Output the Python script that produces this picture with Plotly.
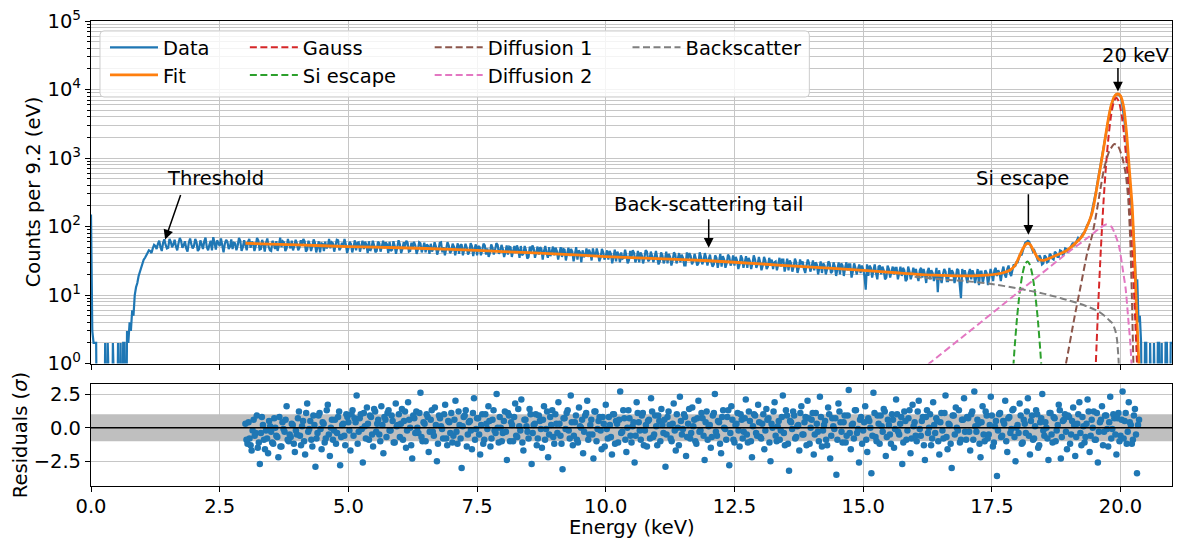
import plotly.graph_objects as go

# ---------------- data ----------------
bin_step_kev = 0.05
# counts at bin starts 0.00, 0.05, ... 21.00
counts = [
    150, 2, 2, 0, 0, 0, 0, 0, 0, 0, 0, 0, 0, 2, 3, 4, 6, 10, 15, 22,
    30, 35, 40, 44, 48, 52, 56, 50, 58, 54, 49, 60, 55, 51, 57, 62, 53, 48, 58, 55,
    52, 59, 47, 55, 61, 50, 54, 45, 58, 63, 52, 49, 56, 60, 51, 47, 57, 53, 62, 50,
    54, 60, 49, 57, 52, 63, 47, 55, 58, 51, 44, 56, 61, 53, 50, 59, 48, 55, 62, 52,
    57, 49, 53, 61, 46, 55, 52, 58, 50, 42, 56, 60, 51, 48, 57, 53, 63, 49, 52, 55,
    48, 56, 50, 45, 59, 52, 47, 54, 61, 49, 53, 44, 57, 51, 48, 55, 60, 46, 52, 50,
    55, 47, 51, 58, 44, 50, 53, 46, 57, 49, 42, 52, 56, 48, 51, 45, 59, 50, 47, 53,
    44, 51, 47, 40, 55, 46, 49, 43, 52, 47, 38, 50, 45, 53, 48, 41, 49, 46, 54, 44,
    47, 42, 39, 50, 44, 41, 46, 52, 40, 45, 36, 43, 48, 42, 39, 47, 44, 41, 50, 43,
    38, 44, 41, 36, 46, 40, 37, 43, 39, 33, 42, 45, 38, 36, 41, 48, 37, 40, 35, 42,
    37, 33, 40, 36, 31, 39, 42, 35, 38, 32, 36, 41, 34, 30, 38, 35, 43, 33, 37, 36,
    35, 31, 38, 33, 29, 36, 32, 39, 34, 30, 35, 27, 33, 37, 31, 34, 29, 36, 32, 35,
    33, 30, 28, 35, 31, 26, 33, 29, 36, 30, 27, 32, 28, 34, 30, 25, 31, 29, 33, 28,
    30, 27, 32, 26, 29, 24, 31, 28, 26, 33, 27, 23, 29, 26, 30, 25, 28, 24, 27, 29,
    26, 23, 28, 25, 21, 27, 24, 29, 22, 26, 24, 20, 27, 25, 23, 28, 22, 25, 24, 21,
    24, 12, 19, 25, 23, 21, 26, 20, 23, 18, 24, 22, 20, 25, 21, 19, 23, 17, 22, 20,
    21, 19, 23, 18, 20, 22, 17, 21, 19, 11, 18, 20, 22, 16, 19, 21, 18, 23, 9, 19,
    18, 21, 17, 20, 19, 14, 22, 19, 21, 18, 20, 23, 19, 21, 22, 20, 24, 21, 23, 26,
    30, 40, 44, 58, 62, 55, 43, 40, 31, 35, 29, 36, 31, 38, 33, 41, 36, 44, 40, 47,
    46, 54, 52, 63, 64, 75, 82, 104, 122, 175, 255, 430, 700, 1180, 2150, 3250, 5100, 6900, 8300, 8500,
    8000, 5100, 2550, 880, 310, 85, 14, 4, 2, 0, 2, 0, 0, 2, 0, 2, 2, 0, 2, 0,
    2,
]
# counts at bin mid-points 0.025, 0.075, ... 20.975
counts_mid = [
    3, 2, 0, 0, 0, 2, 2, 0, 2, 0, 2, 2, 2, 0, 2, 3, 5, 13, 19, 26,
    33, 38, 45, 41, 54, 47, 62, 44, 65, 48, 66, 50, 64, 45, 68, 49, 61, 43, 67, 48,
    66, 44, 63, 47, 69, 45, 62, 70, 46, 55, 67, 42, 64, 47, 65, 58, 45, 68, 44, 63,
    45, 66, 60, 44, 68, 46, 64, 43, 67, 45, 62, 47, 44, 69, 61, 44, 66, 48, 45, 64,
    45, 63, 66, 43, 62, 44, 65, 42, 61, 57, 44, 48, 66, 59, 43, 64, 45, 58, 66, 41,
    60, 42, 63, 58, 43, 62, 60, 41, 44, 62, 42, 60, 43, 62, 59, 41, 44, 61, 40, 63,
    41, 59, 62, 43, 58, 60, 40, 59, 42, 58, 55, 40, 43, 59, 39, 58, 42, 38, 59, 41,
    56, 38, 57, 53, 38, 56, 39, 57, 37, 55, 52, 38, 56, 39, 36, 55, 39, 57, 40, 54,
    36, 53, 51, 36, 52, 53, 35, 38, 52, 34, 51, 53, 35, 51, 50, 33, 52, 35, 37, 51,
    49, 33, 50, 47, 32, 49, 47, 31, 50, 45, 30, 36, 48, 46, 32, 39, 48, 31, 47, 33,
    45, 44, 29, 46, 43, 30, 34, 46, 29, 44, 45, 30, 44, 42, 29, 45, 31, 43, 30, 44,
    28, 42, 29, 43, 40, 27, 42, 29, 41, 39, 27, 42, 41, 28, 40, 27, 42, 28, 41, 27,
    39, 26, 38, 25, 40, 37, 25, 39, 27, 38, 36, 24, 38, 25, 37, 35, 24, 38, 25, 36,
    23, 36, 24, 35, 33, 30, 23, 35, 33, 22, 34, 32, 22, 34, 21, 33, 31, 21, 33, 22,
    32, 30, 20, 31, 29, 20, 31, 21, 30, 19, 30, 29, 19, 30, 28, 18, 29, 20, 28, 27,
    19, 28, 27, 18, 28, 17, 27, 26, 17, 27, 18, 26, 25, 17, 26, 25, 16, 26, 17, 25,
    24, 16, 25, 24, 15, 25, 23, 16, 25, 23, 15, 24, 16, 25, 23, 15, 24, 16, 24, 23,
    15, 24, 23, 15, 24, 22, 15, 23, 14, 24, 16, 25, 23, 16, 26, 18, 27, 19, 28, 30,
    35, 38, 52, 60, 60, 48, 45, 35, 38, 28, 38, 30, 40, 34, 43, 36, 45, 39, 48, 42,
    50, 58, 56, 68, 70, 80, 95, 110, 140, 210, 330, 550, 900, 1600, 2600, 4100, 6000, 7600, 8500, 8300,
    6800, 3800, 1500, 540, 160, 40, 17, 5, 0, 2, 0, 2, 0, 0, 2, 0, 0, 2, 0, 2,
]

fit_energy = [3.0, 4.0, 5.0, 6.0, 7.0, 8.0, 9.0, 10.0, 11.0, 12.0, 13.0, 14.0, 15.0, 15.7,
              16.35, 17.0, 17.4, 17.7, 17.85, 17.95, 18.03, 18.1, 18.16, 18.2, 18.25, 18.3,
              18.36, 18.42, 18.5, 18.6, 18.75, 18.94, 19.1, 19.26, 19.35, 19.45, 19.52,
              19.58, 19.64, 19.7, 19.76, 19.82, 19.88, 19.94, 20.0, 20.06, 20.12, 20.17,
              20.23, 20.28, 20.32, 20.36]
fit_counts = [57, 54, 51, 49, 46.5, 43, 40, 36.5, 34, 31.7, 28.5, 25.5, 23, 21,
              19.5, 19, 19.5, 21, 23, 27, 36, 47, 55, 57, 54, 46,
              38, 33, 32, 34, 38, 44, 55, 73, 100, 160, 300,
              550, 1000, 1900, 3600, 5900, 7900, 8600, 8100, 5600, 2200, 700,
              180, 25, 4, 0.9]

gauss_energy = [19.47, 19.52, 19.57, 19.62, 19.67, 19.72, 19.77, 19.82, 19.87, 19.92,
                19.97, 20.02, 20.07, 20.12, 20.17, 20.22, 20.27, 20.32, 20.37]
gauss_counts = [0.09, 1.0, 8.1, 50, 232, 813, 2160, 4350, 6610, 7600,
                6610, 4350, 2160, 813, 232, 50, 8.1, 1.0, 0.09]

si_energy = [17.89, 17.94, 17.99, 18.04, 18.09, 18.14, 18.19, 18.24, 18.29, 18.34, 18.39, 18.44, 18.49]
si_counts = [0.44, 1.6, 4.7, 10.7, 19.3, 27.6, 31, 27.6, 19.3, 10.7, 4.7, 1.6, 0.44]

diff1_energy = [18.85, 18.94, 19.1, 19.23, 19.35, 19.45, 19.52, 19.6, 19.68, 19.78, 19.88,
                19.95, 20.03, 20.1, 20.15, 20.19, 20.22, 20.25, 20.27]
diff1_counts = [0.5, 1.0, 4.5, 14, 40, 75, 140, 320, 700, 1250, 1600,
                1500, 1050, 590, 250, 60, 10, 1.0, 0.3]

diff2_energy = [16.1, 16.28, 17.0, 18.0, 19.0, 19.4, 19.6, 19.72, 19.82, 19.9, 19.97,
                20.05, 20.1, 20.15, 20.19, 20.22]
diff2_counts = [0.78, 1.0, 2.7, 10.8, 43, 72, 95, 107, 100, 75, 52,
                22, 12.3, 4.5, 2.0, 0.8]

back_energy = [16.0, 16.5, 17.0, 17.5, 18.0, 18.5, 18.75, 19.0, 19.2, 19.4, 19.58, 19.7,
               19.78, 19.84, 19.9, 19.93, 19.96, 19.98]
back_counts = [18.5, 17.0, 16.0, 14.5, 12.5, 10.5, 9.4, 8.3, 7.5, 6.6, 5.7, 4.9,
               4.3, 3.9, 3.0, 2.3, 1.2, 0.5]

resid_step_kev = 0.04
resid_start_a = 3.00
residuals_a = [
    0.3, -1.2, -0.8, -1.7, 0.6, -0.4, -1.5, -2.7, 0.8, -0.9, -0.2, -1.9, 0.1, -1.1, 0.7, -0.6, -2.2, -1.4, 0.4, -0.3, 1.6, -1.0, -0.7, 0.2, -1.8,
    -0.5, 1.2, -1.3, 0.5, -2.0, 1.8, -0.1, -0.9, 0.9, -2.9, -0.4, 1.1, -1.6, 0.3, -0.8, 1.7, -2.1, 0.6, -0.2, -1.2, 0.8, -2.8, 0.2, -0.6, 1.0,
    0.4, -1.7, 1.3, 0.7, 2.4, -0.3, 1.0, -2.6, 0.1, 1.5, -0.9, 0.8, -1.4, 1.2, 0.3, -0.5, 1.6, -1.9, 0.6, 1.1, -0.2, 0.9, -1.1, 1.8, 0.2,
    -0.7, 1.4, 0.5, -1.5, 1.9, 0.0, -2.3, 0.7, 1.2, -0.4, 2.6, -1.0, 0.3, 1.0, -1.8, 0.6, -0.3, 1.5, -2.5, 0.9, 0.1, -0.8, 1.7, -1.3, 0.4,
    1.1, -0.6, 2.0, -1.2, 0.2, -3.0, 0.8, 1.3, -0.5, 0.5, -1.6, 2.2, -0.1, 0.7, -2.0, 1.0, -0.9, 0.3, 1.6, -1.4, 0.6, -0.2, 2.5, -1.1, 0.0,
    -0.4, 1.2, -2.4, 0.9, 0.4, -1.0, 1.8, -0.7, 0.1, 2.1, -1.7, 0.6, -0.3, 1.4, -2.7, 0.2, 1.0, -0.8, 0.5, -1.5, 1.6, -0.1, -2.2, 0.8, 1.3,
    -1.2, 0.3, 1.9, -0.6, -3.1, 0.7, 1.1, -0.2, 2.4, -1.3, 0.4, -0.9, 1.5, 0.0, -1.9, 0.9, 2.0, -0.5, 0.6, -2.3, 1.2, -0.1, 0.8, -1.6, 0.3,
    1.7, -0.8, 0.2, -2.0, 1.0, 0.5, -1.1, 2.7, -0.3, 0.7, -1.8, 1.3, -0.6, 0.1, -2.6, 1.9, 0.4, -0.9, 1.1, -0.2, -1.4, 0.6, 2.2, -0.7, 0.9,
    -1.3, 0.5, 1.4, -0.4, -2.9, 0.8, 0.2, -1.0, 1.8, -1.7, 0.0, 2.3, -0.5, 1.0, -2.1, 0.3, -0.8, 1.5, 0.6, -1.2, 2.0, -0.2, 0.7, -2.4, 1.2,
    0.1, -1.5, 0.9, 2.5, -0.6, 0.4, -1.9, 1.3, -0.1, 0.8, -2.8, 1.6, -0.9, 0.2, 1.1, -1.4, 0.6, -0.3, 2.1, -1.1, 0.5, -2.2, 1.0, -0.4, 1.7,
    -0.7, 0.3, -1.6, 1.4, 0.7, -2.5, 0.0, 1.9, -1.0, 0.5, -0.2, 2.4, -1.3, 0.9, -3.2, 0.4, 1.2, -0.8, 0.1, -1.7, 1.6, -0.5, 0.8, 2.0, -1.2,
    0.6, -2.0, 1.1, -0.3, 2.3, -1.4, 0.2, -0.9, 1.5, -2.3, 0.7, -0.1, -3.5, 1.8, 0.4, -1.1, 0.9, -0.6, 2.8, -1.6, 0.3, 1.3, -0.4, -2.6, 0.8,
    -0.2, 1.6, -1.8, 0.5, -3.4, 2.6, -0.7, 0.9, -1.2, 0.1, 1.4, -2.1, 0.6, -0.5, 1.0, -1.5, 2.1, -0.3, 0.3, -2.7, 1.2, -0.9, 0.7, -1.9, 1.7,
    0.4, -1.0, 2.0, -0.6, 0.8, -2.4, 1.3, 0.0, -1.3, 1.9, -0.4, 0.5, -2.0, 1.1, -0.8, 2.4, -1.6, 0.2, -3.0, 0.9, 1.5, -0.2, -1.1, 0.6, 2.2,
    -0.9, 0.7, -1.7, 1.2, 2.7, -0.3, 0.3, -2.2, 1.6, -1.0, 0.9, -0.5, 2.3, -1.4, 0.1, -3.6, 1.0, -0.7, 0.5, 2.0, -1.8, 0.8, -0.1, 1.4, -2.5,
    0.2, 1.8, -1.2, 0.6, -0.4, 2.2, -2.0, 0.9, -0.8, 1.3, -1.5, 0.4, 2.5, -0.6, 0.0, -2.4, 1.1, -1.1, 0.7, -0.2, 1.7, -2.3, 0.5, 1.0, -1.6,
    0.8, -0.5, 1.5, -2.1, 0.3, 1.9, -1.3, 0.1, -0.7, 2.1, -1.8, 0.6, 1.2, -0.9, -2.6, 0.4, 1.6, -0.3, 0.9, -1.4, 2.3, -0.1, 0.7, -2.0, 1.1,
    -0.6, 2.7, 0.5, -1.2, 1.9, 0.2, -0.9, 1.4, -3.4, 0.6,
]
resid_start_b = 3.02
residuals_b = [
    -0.9, 0.4, -1.3, -0.2, -0.6, 0.9, -1.1, -0.4, 0.2, -1.6, -0.8, 0.5, -0.3, -1.2, 0.0, -0.7, 0.8, -1.4, -0.1, 0.6, -0.9, -0.5, 0.3, -1.2, -0.2,
    0.7, -0.6, 0.1, -1.0, 1.1, -0.3, 0.5, -1.4, 0.2, -0.8, 0.9, -0.1, 0.4, -1.1, 1.3, -0.5, 0.0, -0.9, 0.6, -0.4, 1.2, -0.7, 0.3, -1.3, 0.8,
    -0.2, 1.0, -0.6, 0.4, -1.2, 0.7, -0.1, 1.1, -0.8, 0.3, 0.9, -0.5, 1.4, -0.3, 0.6, -1.0, 0.2, 0.8, -0.7, 1.3, -0.2, 0.5, -1.1, 0.1, 1.0,
    0.3, -0.9, 1.2, -0.2, 0.6, -1.3, 0.9, -0.4, 0.0, 1.1, -0.7, 0.4, -1.0, 0.8, -0.3, 1.3, -0.6, 0.2, -1.2, 0.7, -0.1, 1.0, -0.8, 0.5, -0.4,
    -1.1, 0.6, -0.3, 1.2, -0.8, 0.1, 0.9, -1.4, 0.4, -0.2, 1.1, -0.9, 0.7, -0.5, 0.2, -1.2, 1.0, -0.1, 0.5, -0.8, 1.3, -0.4, 0.0, 0.8, -1.0,
    0.5, -0.3, 1.1, -1.0, 0.2, 0.8, -0.6, 1.4, -0.2, -1.1, 0.6, 0.1, -0.8, 1.0, -0.4, 0.3, -1.3, 0.9, -0.1, 0.6, -0.9, 1.2, -0.5, 0.2, -0.7,
    1.0, -0.4, 0.3, -1.2, 0.7, -0.1, 1.3, -0.8, 0.4, -0.6, 0.9, -1.1, 0.1, 0.6, -0.3, 1.1, -0.9, 0.2, -0.5, 1.2, -1.0, 0.5, -0.2, 0.8, -1.4,
    -0.1, 0.8, -0.7, 1.0, -1.2, 0.3, 0.6, -0.4, 1.3, -0.9, 0.0, 0.7, -1.1, 0.4, -0.6, 1.1, -0.2, 0.9, -1.3, 0.2, 0.5, -0.8, 1.2, -0.5, 0.1,
    0.9, -1.0, 0.2, 0.6, -0.5, 1.2, -0.8, 0.3, -0.2, 1.0, -1.3, 0.5, -0.1, 0.8, -0.7, 1.4, -0.4, 0.1, -1.0, 0.7, -0.3, 1.1, -0.6, 0.4, -0.9,
    0.2, -0.7, 1.1, -0.3, 0.5, -1.2, 0.8, 0.0, -0.9, 1.3, -0.4, 0.6, -1.1, 0.3, -0.2, 1.0, -0.8, 0.7, -0.5, 1.2, -1.0, 0.1, 0.9, -0.6, 0.4,
    -0.8, 1.0, -0.2, 0.6, -1.1, 0.3, 1.2, -0.6, 0.1, -0.9, 0.8, -0.4, 1.3, -1.2, 0.5, -0.1, 0.9, -0.7, 0.2, 1.1, -0.5, 0.4, -1.3, 0.7, 0.0,
    1.1, -0.5, 0.3, -1.0, 0.8, -0.2, 0.5, -1.3, 1.0, -0.6, 0.1, 0.7, -0.9, 1.2, -0.3, 0.4, -1.1, 0.9, -0.4, 0.2, -0.8, 1.3, -0.1, 0.6, -1.2,
    0.4, -0.9, 0.7, 0.0, -0.6, 1.1, -1.0, 0.3, 0.9, -0.3, 1.2, -0.7, 0.2, -1.2, 0.6, -0.1, 1.0, -0.5, 0.8, -1.1, 0.5, -0.2, 1.3, -0.8, 0.1,
    -0.6, 1.2, -0.1, 0.5, -1.3, 0.8, -0.4, 1.0, -0.8, 0.2, 0.7, -1.0, 0.4, -0.2, 1.1, -0.7, 0.3, -1.2, 0.9, -0.5, 0.0, 1.3, -0.9, 0.6, -0.3,
    0.8, -0.3, 1.0, -0.9, 0.1, 0.6, -1.2, 0.4, -0.5, 1.2, -0.8, 0.2, 0.9, -1.1, 0.5, -0.2, 1.1, -0.6, 0.3, -1.0, 0.7, -0.4, 1.3, -0.7, 0.0,
    -0.4, 0.9, -1.1, 0.3, 1.2, -0.6, 0.5, -0.9, 0.1, 1.0, -1.3, 0.7, -0.2, 0.4, -0.8, 1.1, -0.5, 0.8, -1.0, 0.2, 1.3, -0.7, 0.6, -0.3, 0.9,
    -1.2, 0.5, 0.2, -0.7, 1.0, -0.4, 0.8, -1.1, 0.3, 1.2, -0.6, 0.0, -0.9, 1.1, -0.3, 0.6, -1.3, 0.9, -0.1, 0.4, -0.8, 1.0, -0.5, 0.7, -1.0,
    0.6, -0.8, 1.1, -0.3, 0.4, -1.2, 0.9, -0.5, 0.2,
]

x_tick_vals = [0, 2.5, 5, 7.5, 10, 12.5, 15, 17.5, 20]
x_tick_text = ["0.0", "2.5", "5.0", "7.5", "10.0", "12.5", "15.0", "17.5", "20.0"]
y_tick_vals = [1, 10, 100, 1000, 10000, 100000]
y_tick_text = ["10<sup>0</sup>", "10<sup>1</sup>", "10<sup>2</sup>", "10<sup>3</sup>",
               "10<sup>4</sup>", "10<sup>5</sup>"]
r_tick_vals = [-2.5, 0, 2.5]
r_tick_text = ["\u22122.5", "0.0", "2.5"]

# ---------------- derived ----------------
pts = [(round(i * bin_step_kev, 3), c) for i, c in enumerate(counts)]
pts += [(round(bin_step_kev / 2 + i * bin_step_kev, 3), c) for i, c in enumerate(counts_mid)]
pts.sort()
energies = [p[0] for p in pts]
counts_plot = [p[1] if p[1] > 0 else 0.01 for p in pts]  # zero-count bins fall off the log axis

resid_x = [round(resid_start_a + i * resid_step_kev, 3) for i in range(len(residuals_a))]
resid_x += [round(resid_start_b + i * resid_step_kev, 3) for i in range(len(residuals_b))]
resid_y = residuals_a + residuals_b
minor_vals = [m * 10 ** k for k in range(0, 5) for m in range(2, 10)]

BLUE, ORANGE = "#1f77b4", "#ff7f0e"
RED, GREEN, BROWN, PINK, GRAY = "#d62728", "#2ca02c", "#8c564b", "#e377c2", "#7f7f7f"
FONT = "DejaVu Sans"
FS = 19.5
DASH = "7px,3.5px"

fig = go.Figure()
fig.add_trace(go.Scatter(x=energies, y=counts_plot, mode="lines", name="Data",
                         line=dict(color=BLUE, width=2.2), legend="legend"))
fig.add_trace(go.Scatter(x=fit_energy, y=fit_counts, mode="lines", name="Fit",
                         line=dict(color=ORANGE, width=2.8, shape="spline", smoothing=0.6),
                         legend="legend2"))
comps = [("Gauss", gauss_energy, gauss_counts, RED, "legend3"),
         ("Si escape", si_energy, si_counts, GREEN, "legend4"),
         ("Diffusion 1", diff1_energy, diff1_counts, BROWN, "legend5"),
         ("Diffusion 2", diff2_energy, diff2_counts, PINK, "legend6"),
         ("Backscatter", back_energy, back_counts, GRAY, "legend7")]
for name, xs, ys, col, lg in comps:
    fig.add_trace(go.Scatter(x=xs, y=ys, mode="lines", name=name,
                             line=dict(color=col, width=2, dash=DASH, shape="spline", smoothing=0.6),
                             legend=lg))

fig.add_trace(go.Scatter(x=resid_x, y=resid_y, mode="markers", xaxis="x2", yaxis="y2",
                         marker=dict(color=BLUE, size=6.5, line=dict(width=0)), showlegend=False))

# ---------------- layout ----------------
L, R, T, B = 91, 7, 15, 56
W, H = 1180, 542
PW, PH = W - L - R, H - T - B


def px_x(px):
    return (px - L) / PW


def px_y(py):
    return (H - B - py) / PH


grid = "#c6c6c6"
txt_font = dict(family=FONT, size=FS, color="black")
axis_common = dict(showline=True, mirror=True, linecolor="black", linewidth=1.2,
                   ticks="outside", ticklen=5, tickwidth=1.2, tickcolor="black",
                   showgrid=True, gridcolor=grid, gridwidth=1, zeroline=False,
                   tickfont=txt_font)

fig.update_layout(
    width=W, height=H, margin=dict(l=L, r=R, t=T, b=B),
    paper_bgcolor="white", plot_bgcolor="white",
    font=txt_font,
    xaxis=dict(domain=[0, 1], anchor="y", range=[0, 21], tickmode="array",
               tickvals=x_tick_vals, showticklabels=False, matches="x2", **axis_common),
    yaxis=dict(domain=[px_y(362), 1], anchor="x", type="log", range=[0, 5], tickmode="array",
               tickvals=y_tick_vals, ticktext=y_tick_text,
               minor=dict(tickmode="array", tickvals=minor_vals, ticks="outside", ticklen=3,
                          tickcolor="black", showgrid=True, gridcolor=grid, gridwidth=1),
               **axis_common),
    xaxis2=dict(domain=[0, 1], anchor="y2", range=[0, 21], tickmode="array",
                tickvals=x_tick_vals, ticktext=x_tick_text, ticklabelstandoff=-3, **axis_common),
    yaxis2=dict(domain=[0, px_y(383)], anchor="x2", range=[-4.34, 3.23], tickmode="array",
                tickvals=r_tick_vals, ticktext=r_tick_text, **axis_common),
)

# one legend per entry, laid out in matplotlib's 4-column grid
leg_cols = {"legend": (107, 42), "legend2": (107, 70), "legend3": (247, 42), "legend4": (247, 70),
            "legend5": (432, 42), "legend6": (432, 70), "legend7": (630, 42)}
for key, (lx, ly) in leg_cols.items():
    fig.update_layout({key: dict(x=px_x(lx - 2), y=px_y(ly), xanchor="left", yanchor="middle",
                                 bgcolor="rgba(0,0,0,0)", borderwidth=0, itemwidth=48,
                                 font=txt_font)})

# legend frame (rounded)
x0, x1, y0, y1 = px_x(100), px_x(810), px_y(92), px_y(25)
rx, ry = 4 / PW, 4 / PH
path = (f"M{x0+rx},{y0} L{x1-rx},{y0} Q{x1},{y0} {x1},{y0+ry} L{x1},{y1-ry} Q{x1},{y1} {x1-rx},{y1} "
        f"L{x0+rx},{y1} Q{x0},{y1} {x0},{y1-ry} L{x0},{y0+ry} Q{x0},{y0} {x0+rx},{y0} Z")
fig.add_shape(type="path", path=path, xref="paper", yref="paper", layer="above",
              fillcolor="rgba(255,255,255,0.8)", line=dict(color="#cccccc", width=1))

# residual band and zero line
fig.add_shape(type="rect", xref="x2", yref="y2", x0=0, x1=21, y0=-1, y1=1, layer="between",
              fillcolor="#bfbfbf", line=dict(width=0))
fig.add_shape(type="line", xref="x2", yref="y2", x0=0, x1=21, y0=0, y1=0, layer="above",
              line=dict(color="black", width=1.5))

# annotations (arrows + labels)
arrows = [(1.44, 1.81, 16, -46), (12.0, 1.69, 0, -30), (18.21, 1.88, 0, -42), (19.95, 3.97, 0, -25)]
for ax_, ay_, dx, dy in arrows:
    fig.add_annotation(x=ax_, y=ay_, xref="x", yref="y", text="", showarrow=True,
                       ax=dx, ay=dy, arrowhead=2, arrowsize=1.3, arrowwidth=1.5, arrowcolor="black")
labels = [("Threshold", 2.41, 2.70), ("Back-scattering tail", 12.0, 2.327),
          ("Si escape", 18.09, 2.70), ("20 keV", 20.30, 4.49)]
for txt, lx, ly in labels:
    fig.add_annotation(x=lx, y=ly, xref="x", yref="y", text=txt, showarrow=False,
                       xanchor="center", yanchor="middle", font=txt_font)

# axis titles
fig.add_annotation(x=0, y=px_y(188.5), xref="paper", yref="paper", text="Counts per 9.2 (eV)",
                   textangle=-90, showarrow=False, xanchor="center", yanchor="middle",
                   xshift=33 - L, font=txt_font)
fig.add_annotation(x=0, y=px_y(434.5), xref="paper", yref="paper", text="Residuals (<i>σ</i>)",
                   textangle=-90, showarrow=False, xanchor="center", yanchor="middle",
                   xshift=20 - L, font=txt_font)
fig.add_annotation(x=px_x(632), y=0, xref="paper", yref="paper", text="Energy (keV)",
                   showarrow=False, xanchor="center", yanchor="middle", yshift=-41,
                   font=txt_font)

fig.write_html("out.html", config={"displayModeBar": False},
               post_script="document.body.style.margin='0';")
